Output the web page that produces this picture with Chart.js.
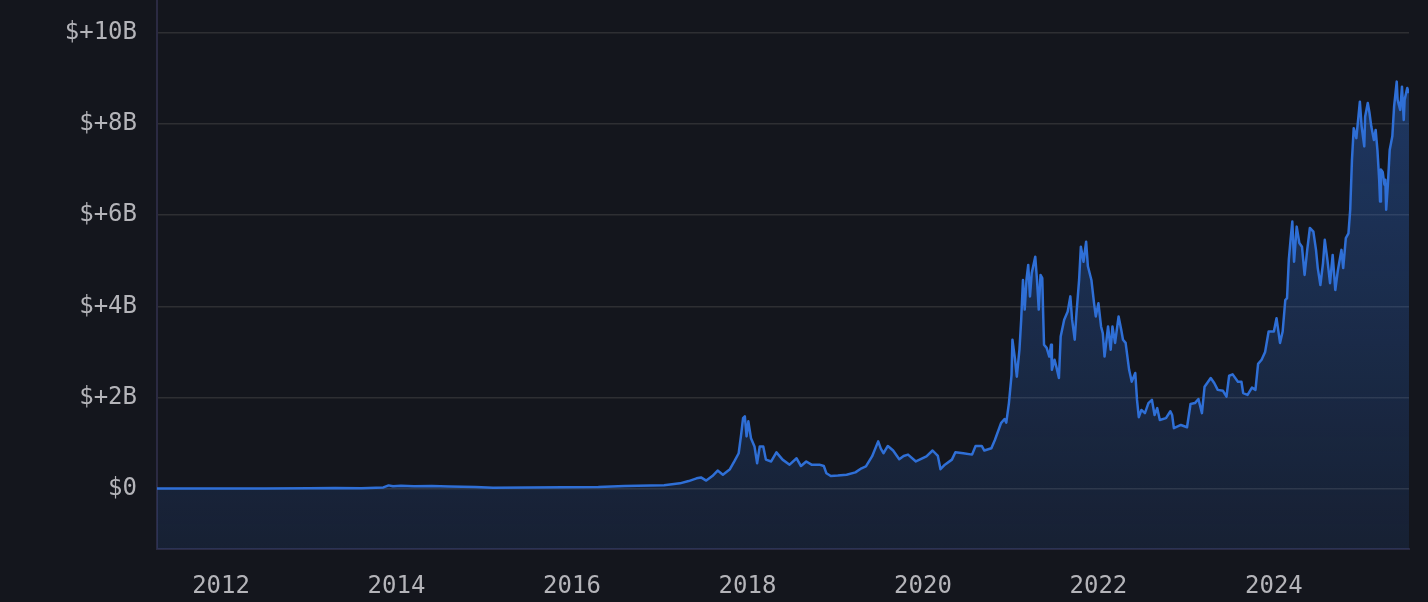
<!DOCTYPE html>
<html>
<head>
<meta charset="utf-8">
<script src="https://cdn.jsdelivr.net/npm/chart.js@4.4.1/dist/chart.umd.min.js"></script>
<style>
  html, body { margin: 0; padding: 0; background: #14161d; }
  #wrap { width: 1428px; height: 602px; position: relative; }
</style>
</head>
<body>
<div id="wrap"><canvas id="capChart" width="1428" height="602"></canvas></div>
<script>
// decimal years and values in billions
const years = [
  2011.27, 2011.6, 2012.0, 2012.5, 2013.0, 2013.3, 2013.6, 2013.85, 2013.91, 2013.96,
  2014.05, 2014.2, 2014.4, 2014.6, 2014.9, 2015.1, 2015.5, 2015.9, 2016.3, 2016.6,
  2016.9, 2017.05, 2017.23, 2017.33, 2017.42, 2017.47, 2017.53, 2017.6, 2017.66, 2017.72,
  2017.8, 2017.85, 2017.9, 2017.93, 2017.95, 2017.97, 2017.99, 2018.01, 2018.04, 2018.08,
  2018.11, 2018.14, 2018.18, 2018.21, 2018.27, 2018.33, 2018.4, 2018.48, 2018.56, 2018.61,
  2018.67, 2018.73, 2018.82, 2018.87, 2018.9, 2018.95, 2019.03, 2019.13, 2019.23, 2019.3,
  2019.35, 2019.42, 2019.49, 2019.52, 2019.55, 2019.6, 2019.66, 2019.73, 2019.78, 2019.83,
  2019.92, 2020.04, 2020.11, 2020.17, 2020.2, 2020.25, 2020.33, 2020.37, 2020.46, 2020.56,
  2020.6, 2020.67, 2020.7, 2020.78, 2020.82, 2020.89, 2020.93, 2020.95, 2020.98, 2021.01,
  2021.02, 2021.05, 2021.07, 2021.1, 2021.12, 2021.14, 2021.16, 2021.18, 2021.2, 2021.22,
  2021.24, 2021.28, 2021.3, 2021.32, 2021.34, 2021.36, 2021.37, 2021.38, 2021.41, 2021.44,
  2021.46, 2021.47, 2021.5, 2021.52, 2021.55, 2021.57, 2021.61, 2021.65, 2021.68, 2021.7,
  2021.73, 2021.75, 2021.78, 2021.8, 2021.83, 2021.86, 2021.88, 2021.92, 2021.95, 2021.97,
  2022.0, 2022.03, 2022.05, 2022.07, 2022.11, 2022.14, 2022.16, 2022.19, 2022.23, 2022.26,
  2022.28, 2022.31, 2022.35, 2022.38, 2022.42, 2022.44, 2022.46, 2022.49, 2022.53, 2022.57,
  2022.61, 2022.64, 2022.67, 2022.7, 2022.77, 2022.82, 2022.84, 2022.86, 2022.94, 2023.01,
  2023.05, 2023.1, 2023.14, 2023.18, 2023.21, 2023.28, 2023.32, 2023.36, 2023.42, 2023.46,
  2023.49, 2023.53, 2023.59, 2023.63, 2023.65, 2023.7, 2023.75, 2023.79, 2023.82, 2023.86,
  2023.9, 2023.94, 2024.0, 2024.03, 2024.07, 2024.1, 2024.13, 2024.15, 2024.17, 2024.19,
  2024.21, 2024.23, 2024.26, 2024.29, 2024.32, 2024.35, 2024.38, 2024.41, 2024.45, 2024.48,
  2024.5, 2024.53, 2024.56, 2024.58, 2024.61, 2024.64, 2024.67, 2024.7, 2024.73, 2024.77,
  2024.79, 2024.82, 2024.85, 2024.87, 2024.89, 2024.91, 2024.94, 2024.96, 2024.98, 2025.0,
  2025.03, 2025.04, 2025.07, 2025.09, 2025.11, 2025.14, 2025.16, 2025.18, 2025.2, 2025.21,
  2025.22, 2025.24, 2025.26, 2025.27, 2025.28, 2025.3, 2025.32, 2025.35, 2025.37, 2025.4,
  2025.41, 2025.44, 2025.46, 2025.48, 2025.49, 2025.52, 2025.54
];
const valuesB = [
  0.005, 0.005, 0.005, 0.006, 0.01, 0.02, 0.015, 0.03, 0.075, 0.055,
  0.065, 0.055, 0.06, 0.05, 0.04, 0.025, 0.03, 0.035, 0.04, 0.06,
  0.07, 0.08, 0.12, 0.17, 0.23, 0.25, 0.18, 0.28, 0.4, 0.31,
  0.43, 0.6, 0.78, 1.22, 1.55, 1.59, 1.15, 1.48, 1.11, 0.93,
  0.56, 0.93, 0.93, 0.64, 0.6, 0.8, 0.64, 0.53, 0.67, 0.5,
  0.6, 0.53, 0.53, 0.5, 0.34, 0.28, 0.29, 0.31, 0.36, 0.45,
  0.49, 0.71, 1.04, 0.88, 0.78, 0.94, 0.84, 0.65, 0.72, 0.75,
  0.6, 0.71, 0.84, 0.72, 0.43, 0.53, 0.64, 0.8, 0.78, 0.75,
  0.94, 0.94, 0.84, 0.89, 1.07, 1.44, 1.53, 1.45, 1.88, 2.5,
  3.27, 2.83, 2.46, 3.05, 3.71, 4.58, 3.93, 4.58, 4.91, 4.22,
  4.73, 5.09, 4.58, 3.93, 4.69, 4.62, 3.85, 3.16, 3.09, 2.9,
  3.16, 2.61, 2.83, 2.68, 2.43, 3.34, 3.71, 3.89, 4.22, 3.71,
  3.27, 3.85, 4.58, 5.31, 4.98, 5.42, 4.88, 4.58, 4.07, 3.78,
  4.07, 3.56, 3.41, 2.9, 3.56, 3.05, 3.56, 3.2, 3.78, 3.49,
  3.27, 3.2, 2.61, 2.35, 2.54, 1.95, 1.57, 1.73, 1.66, 1.88,
  1.95, 1.62, 1.77, 1.51, 1.55, 1.7, 1.62, 1.33, 1.4, 1.35,
  1.86, 1.88, 1.97, 1.66, 2.24, 2.43, 2.32, 2.17, 2.15, 2.02,
  2.48, 2.51, 2.35, 2.35, 2.1, 2.06, 2.22, 2.17, 2.74, 2.83,
  3.0, 3.45, 3.45, 3.74, 3.2, 3.45, 4.14, 4.18, 5.02, 5.46,
  5.86, 4.98, 5.75, 5.39, 5.31, 4.69, 5.24, 5.72, 5.64, 5.24,
  4.84, 4.47, 4.95, 5.46, 5.02, 4.51, 5.13, 4.36, 4.8, 5.24,
  4.84, 5.5, 5.6, 6.12, 7.21, 7.91, 7.69, 8.09, 8.49, 7.95,
  7.51, 8.16, 8.46, 8.24, 7.95, 7.65, 7.87, 7.43, 6.78, 6.3,
  7.0, 6.95, 6.67, 6.78, 6.12, 6.7, 7.43, 7.73, 8.38, 8.93,
  8.53, 8.31, 8.82, 8.09, 8.53, 8.79, 8.68
];
const xTicks = [2012, 2014, 2016, 2018, 2020, 2022, 2024];
const yTicks = [0, 2, 4, 6, 8, 10];

const points = years.map((y, i) => ({ x: y, y: valuesB[i] }));
const tickFont = { family: '"DejaVu Sans Mono", monospace', size: 24 };

function fillGradient(ctx) {
  const area = ctx.chart.chartArea;
  if (!area) return 'rgba(47,111,214,0.25)';
  const g = ctx.chart.ctx.createLinearGradient(0, area.top, 0, area.bottom);
  g.addColorStop(0, 'rgba(47,111,214,0.42)');
  g.addColorStop(1, 'rgba(47,111,214,0.12)');
  return g;
}

new Chart(document.getElementById('capChart'), {
  type: 'line',
  data: {
    datasets: [{
      data: points,
      borderColor: '#2f6fd6',
      borderWidth: 2.5,
      borderJoinStyle: 'round',
      backgroundColor: fillGradient,
      fill: 'start',
      pointRadius: 0,
      tension: 0
    }]
  },
  options: {
    responsive: false,
    animation: false,
    layout: { padding: { left: 0, right: 19, top: 0, bottom: 0 } },
    plugins: { legend: { display: false }, tooltip: { enabled: false } },
    scales: {
      x: {
        type: 'linear',
        min: 2011.27,
        max: 2025.54,
        afterBuildTicks: s => { s.ticks = xTicks.map(v => ({ value: v })); },
        afterFit: s => { s.height = 53; s.paddingLeft = 0; s.paddingRight = 0; },
        grid: { display: false },
        border: { color: '#2b2a42', width: 2 },
        ticks: {
          color: '#b4b4b9',
          font: tickFont,
          padding: 15,
          maxRotation: 0,
          callback: v => String(v)
        }
      },
      y: {
        min: -1.32,
        max: 10.72,
        afterBuildTicks: s => { s.ticks = yTicks.map(v => ({ value: v })); },
        afterFit: s => { s.width = 157; s.paddingTop = 0; s.paddingBottom = 0; },
        grid: { color: '#2e2f33', lineWidth: 1.5, drawTicks: false },
        border: { color: '#2b2a42', width: 2 },
        ticks: {
          color: '#b4b4b9',
          font: tickFont,
          padding: 20,
          callback: v => v === 0 ? '$0' : '$+' + v + 'B'
        }
      }
    }
  }
});
</script>
</body>
</html>
